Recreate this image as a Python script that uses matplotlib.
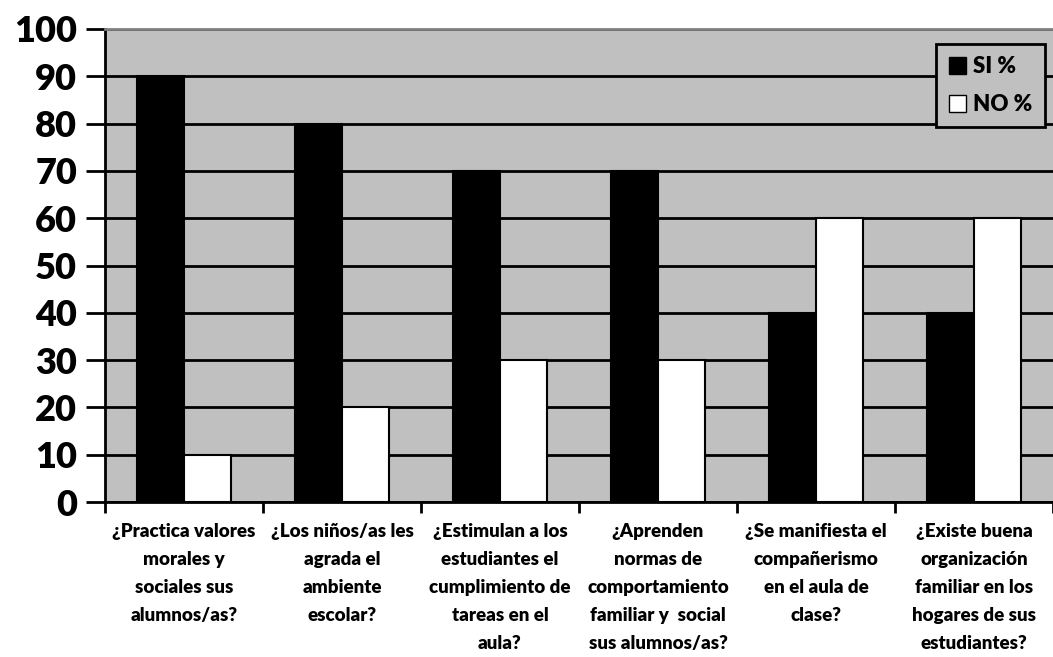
import numpy as np
import matplotlib.pyplot as plt
from matplotlib.patches import Patch

preguntas = [
    '¿Practica valores\nmorales y\nsociales sus\nalumnos/as?',
    '¿Los niños/as les\nagrada el\nambiente\nescolar?',
    '¿Estimulan a los\nestudiantes el\ncumplimiento de\ntareas en el\naula?',
    '¿Aprenden\nnormas de\ncomportamiento\nfamiliar y  social\nsus alumnos/as?',
    '¿Se manifiesta el\ncompañerismo\nen el aula de\nclase?',
    '¿Existe buena\norganización\nfamiliar en los\nhogares de sus\nestudiantes?',
]
si = [90, 80, 70, 70, 40, 40]
no = [10, 20, 30, 30, 60, 60]

plt.rcParams['font.family'] = ['Lato', 'DejaVu Sans']
plt.rcParams['font.weight'] = 'bold'

fig = plt.figure(figsize=(10.53, 6.57), dpi=100)
ax = fig.add_axes([105 / 1053, (657 - 502) / 657, 948 / 1053, 473 / 657])
ax.set_facecolor('#c0c0c0')

x = np.arange(len(preguntas))
w = 0.295
ax.bar(x - w / 2, si, w, color='black', edgecolor='black', linewidth=1.5, zorder=3)
ax.bar(x + w / 2, no, w, color='white', edgecolor='black', linewidth=1.5, zorder=3)

ax.set_xlim(-0.5, len(preguntas) - 0.5)
ax.set_ylim(0, 100)
ax.set_yticks(range(0, 101, 10))
ax.yaxis.grid(True, color='black', linewidth=2, zorder=0)
ax.set_axisbelow(True)

ax.set_xticks(np.arange(len(preguntas) + 1) - 0.5)
ax.set_xticklabels([])
ax.set_xticks(x, minor=True)
ax.set_xticklabels(preguntas, minor=True, fontsize=13.5, fontweight='heavy', linespacing=1.78)
ax.tick_params(axis='x', which='minor', length=0, pad=15)
ax.tick_params(axis='x', which='major', length=8, width=2)
ax.tick_params(axis='y', length=14, width=2, labelsize=26, pad=6)
for t in ax.get_yticklabels():
    t.set_fontweight('heavy')

for s in ['left', 'bottom']:
    ax.spines[s].set_linewidth(2)
ax.spines['top'].set_color('#808080')
ax.spines['top'].set_linewidth(2)
ax.spines['right'].set_visible(False)

handles = [Patch(facecolor='black', edgecolor='black', label='SI %'),
           Patch(facecolor='white', edgecolor='black', label='NO %')]
leg = ax.legend(handles=handles, loc='upper left', bbox_to_anchor=(0.877, 0.968),
                frameon=True, fancybox=False, prop={'weight': 'heavy', 'size': 16},
                handlelength=0.8, handleheight=0.8, handletextpad=0.3, borderpad=0.55,
                labelspacing=0.75, borderaxespad=0)
leg.get_frame().set_edgecolor('black')
leg.get_frame().set_linewidth(2)
leg.get_frame().set_facecolor('#c0c0c0')
leg.get_frame().set_alpha(None)
leg.set_zorder(5)

fig.savefig('out.png', dpi=100)
